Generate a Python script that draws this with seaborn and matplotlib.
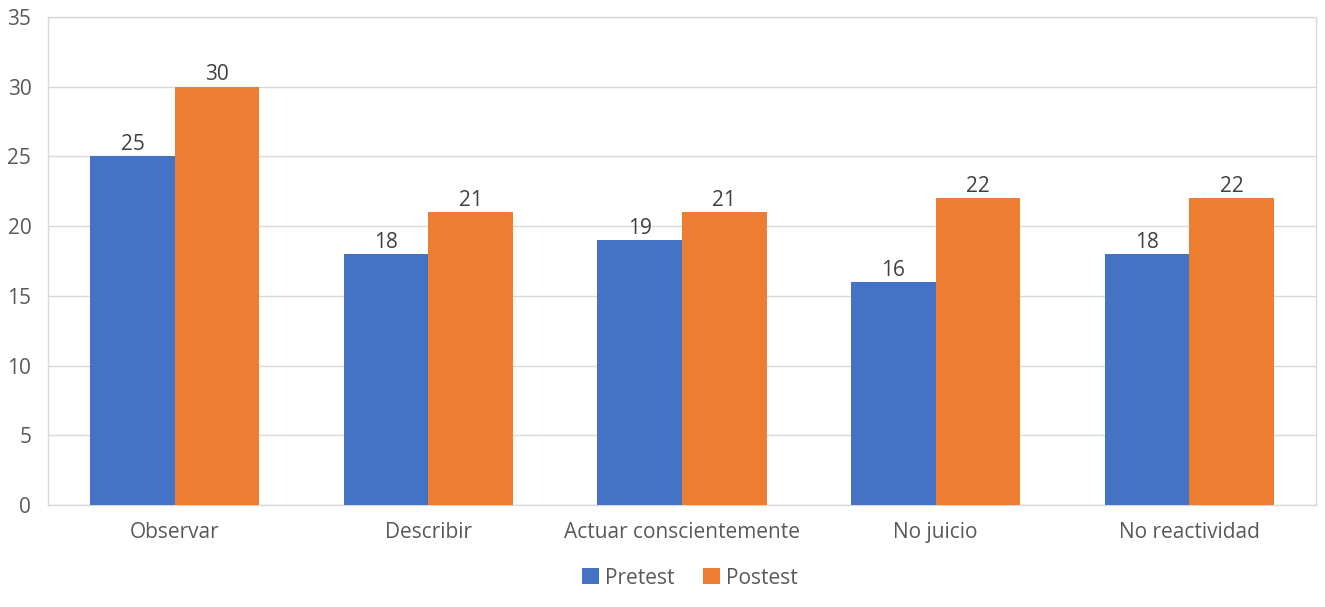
import matplotlib
matplotlib.use("Agg")
import matplotlib.pyplot as plt
import seaborn as sns
import pandas as pd

categories = ["Observar", "Describir", "Actuar conscientemente", "No juicio", "No reactividad"]
pretest = [25, 18, 19, 16, 18]
postest = [30, 21, 21, 22, 22]
series_names = ["Pretest", "Postest"]
yticks = [0, 5, 10, 15, 20, 25, 30, 35]

df = pd.DataFrame({
    "cat": categories * 2,
    "val": pretest + postest,
    "serie": [series_names[0]] * len(categories) + [series_names[1]] * len(categories),
})

sns.set_theme(style="white")
plt.rcParams["font.family"] = ["Open Sans", "DejaVu Sans"]

fig = plt.figure(figsize=(13.25, 6.07), dpi=100)
ax = fig.add_axes([48 / 1325, 1 - 505 / 607, (1316 - 48) / 1325, (505 - 17) / 607])

palette = {"Pretest": "#4472C4", "Postest": "#ED7D31"}
sns.barplot(data=df, x="cat", y="val", hue="serie", palette=palette, width=2 / 3,
            gap=0, saturation=1, ax=ax, legend=True, zorder=3, linewidth=0)

for c in ax.containers:
    ax.bar_label(c, fontsize=15, color="#404040", padding=1)

ax.set_ylim(0, 35)
ax.set_yticks(yticks)
ax.set_xlim(-0.5, len(categories) - 0.5)
ax.yaxis.grid(True, color="#D9D9D9", linewidth=1, zorder=0)
ax.set_axisbelow(True)
for s in ax.spines.values():
    s.set_color("#D9D9D9")
    s.set_linewidth(1)
ax.set_xlabel("")
ax.set_ylabel("")
ax.tick_params(axis="both", length=0, labelsize=15, labelcolor="#595959")
ax.tick_params(axis="x", pad=12)
ax.tick_params(axis="y", pad=12)

handles, labels = ax.get_legend_handles_labels()
ax.legend(handles, labels, loc="center", bbox_to_anchor=(690 / 1325, 1 - 578 / 607),
          bbox_transform=fig.transFigure, ncol=2, frameon=False, fontsize=15,
          handlelength=0.8, handleheight=0.8, handletextpad=0.3, columnspacing=1.4,
          labelcolor="#595959")

fig.savefig("out.png", dpi=100)
